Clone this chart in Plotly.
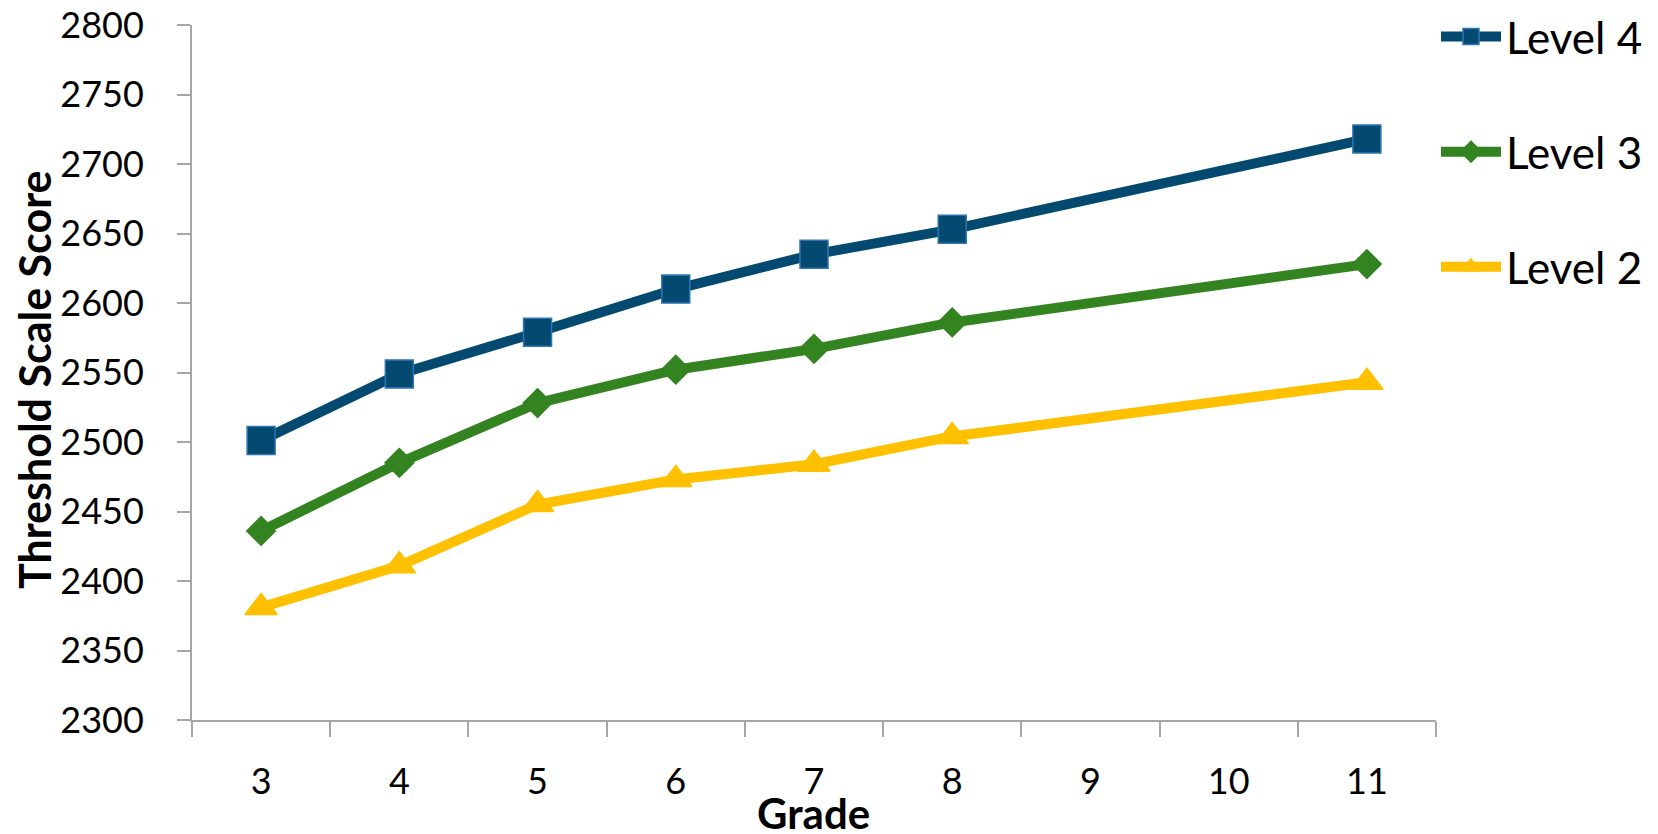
import plotly.graph_objects as go

grades = ["3", "4", "5", "6", "7", "8", "9", "10", "11"]
data_grades = ["3", "4", "5", "6", "7", "8", "11"]
level4 = [2501, 2549, 2579, 2610, 2635, 2653, 2718]
level3 = [2436, 2485, 2528, 2552, 2567, 2586, 2628]
level2 = [2381, 2411, 2455, 2473, 2484, 2504, 2543]
y_ticks = list(range(2300, 2801, 50))

FONT = "Lato"
W, H = 1650, 826
L, R, T, B = 184, 222, 17, 114
PW, PH = W - L - R, H - T - B

fig = go.Figure()
series = [
    ("Level 4", level4, "#044A70", "square", "#2E75B6", 28),
    ("Level 3", level3, "#338420", "diamond", "#338420", 22),
    ("Level 2", level2, "#FFC000", "triangle-up", "#FFC000", 28),
]
for i, (name, vals, col, sym, edge, sz) in enumerate(series):
    fig.add_trace(go.Scatter(
        x=data_grades, y=vals, name=name, mode="lines+markers",
        line=dict(color=col, width=10),
        marker=dict(symbol=sym, size=sz, color=col, line=dict(color=edge, width=1.5)),
        legendgroup=f"g{i}",
    ))

fig.update_layout(
    width=W, height=H,
    margin=dict(l=L, r=R, t=T, b=B, autoexpand=False),
    paper_bgcolor="white", plot_bgcolor="white",
    font=dict(family=FONT, size=36, color="black"),
    showlegend=True,
    legend=dict(x=1.0, y=1.034, xanchor="left", yanchor="top",
                font=dict(family=FONT, size=44, color="black"),
                tracegroupgap=55, itemwidth=60, bgcolor="rgba(0,0,0,0)"),
    xaxis=dict(type="category", categoryorder="array", categoryarray=grades,
               range=[-0.5, 8.5], showgrid=False, showline=True,
               linecolor="#A6A6A6", linewidth=2, ticks="outside", tickson="boundaries",
               ticklen=15, tickcolor="#A6A6A6", tickwidth=2,
               tickfont=dict(family=FONT, size=36), ticklabelstandoff=29,
               tickvals=grades, ticktext=grades),
    yaxis=dict(range=[2300, 2800], tickvals=y_ticks, showgrid=False, zeroline=False,
               showline=True, linecolor="#A6A6A6", linewidth=2, ticks="outside",
               ticklen=13, tickcolor="#A6A6A6", tickwidth=2,
               tickfont=dict(family=FONT, size=36), ticklabelstandoff=26,
               ticklabeloverflow="allow"),
    annotations=[
        dict(text="<b>Grade</b>", x=(805 - L) / PW, xref="paper",
             y=(PH + T - 805) / PH, yref="paper",
             xanchor="center", yanchor="middle", showarrow=False,
             font=dict(family=FONT, size=42, color="black")),
        dict(text="<b>Threshold Scale Score</b>", x=(27 - L) / PW, xref="paper",
             y=(PH + T - 372) / PH, yref="paper",
             xanchor="center", yanchor="middle", showarrow=False, textangle=-90,
             font=dict(family=FONT, size=43, color="black")),
    ],
)

fig.write_html("out.html")
